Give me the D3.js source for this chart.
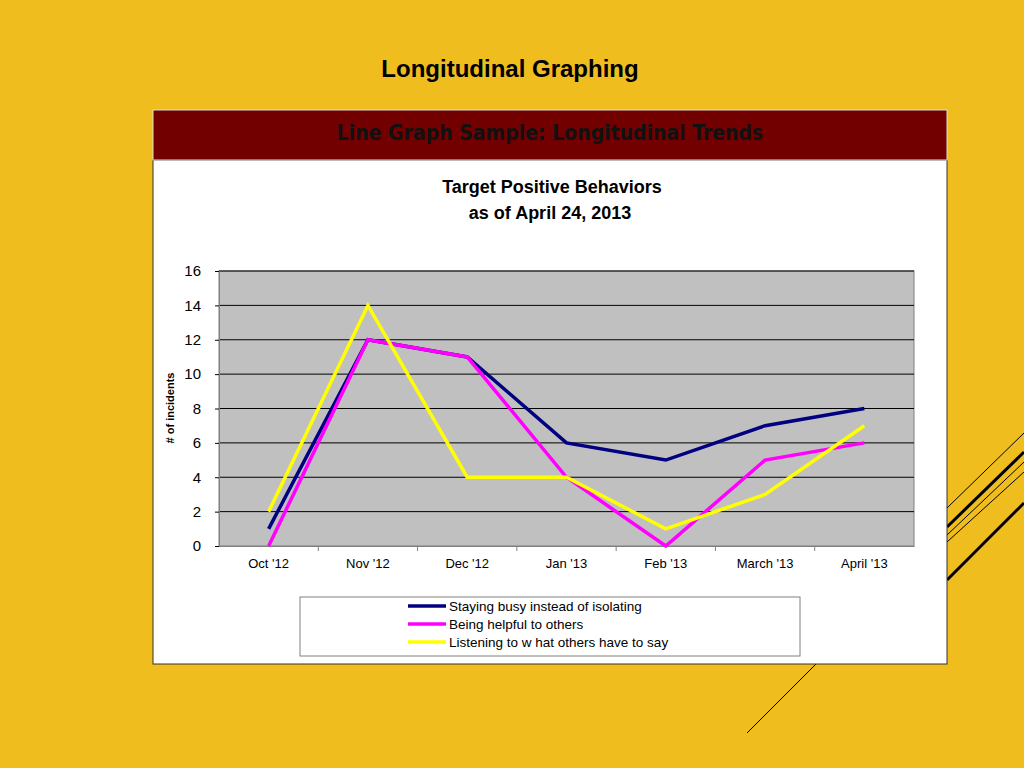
<!DOCTYPE html>
<html>
<head>
<meta charset="utf-8">
<script src="https://cdn.jsdelivr.net/npm/d3@7"></script>
<style>
  body { margin: 0; background: #F0BD1F; }
  svg { display: block; font-family: "Liberation Sans", Arial, sans-serif; }
</style>
</head>
<body>
<svg id="chart" width="1024" height="768"></svg>
<script>
const months = ["Oct '12", "Nov '12", "Dec '12", "Jan '13", "Feb '13", "March '13", "April '13"];
const stayingBusy = [1, 12, 11, 6, 5, 7, 8];
const beingHelpful = [0, 12, 11, 4, 0, 5, 6];
const listening = [2, 14, 4, 4, 1, 3, 7];
const yTicks = [0, 2, 4, 6, 8, 10, 12, 14, 16];

const series = [
  { name: 'Staying busy instead of isolating', values: stayingBusy, color: '#000080' },
  { name: 'Being helpful to others', values: beingHelpful, color: '#FF00FF' },
  { name: 'Listening to w hat others have to say', values: listening, color: '#FFFF00' },
];

const svg = d3.select('#chart');

// decorative diagonal lines
const deco = [
  [947, 508, 1024, 433, 1], [947, 527, 1024, 452, 3], [947, 535, 1024, 462, 1],
  [947, 542, 1024, 472, 1], [947, 580, 1024, 503, 3], [747, 733, 816, 664, 1],
];
deco.forEach(([x1, y1, x2, y2, w]) =>
  svg.append('line').attr('x1', x1).attr('y1', y1).attr('x2', x2).attr('y2', y2)
    .attr('stroke', '#000').attr('stroke-width', w));

svg.append('text').attr('x', 510).attr('y', 77).attr('text-anchor', 'middle')
  .attr('font-size', 24).attr('font-weight', 'bold').text('Longitudinal Graphing');

svg.append('rect').attr('x', 153).attr('y', 160).attr('width', 794).attr('height', 504)
  .attr('fill', '#fff').attr('stroke', '#333');
svg.append('rect').attr('x', 153).attr('y', 110).attr('width', 794).attr('height', 50)
  .attr('fill', '#720000').attr('stroke', '#ddd');
svg.append('text').attr('x', 550).attr('y', 140).attr('text-anchor', 'middle')
  .attr('font-size', 21).attr('font-weight', 'bold').attr('fill', '#111')
  .attr('font-family', 'DejaVu Sans Condensed, sans-serif').text('Line Graph Sample: Longitudinal Trends');

svg.append('text').attr('x', 552).attr('y', 193).attr('text-anchor', 'middle')
  .attr('font-size', 18).attr('font-weight', 'bold').text('Target Positive Behaviors');
svg.append('text').attr('x', 550).attr('y', 219).attr('text-anchor', 'middle')
  .attr('font-size', 18).attr('font-weight', 'bold').text('as of April 24, 2013');

const plot = { left: 219, right: 914, top: 271, bottom: 546 };
const x = d3.scaleBand().domain(months).range([plot.left, plot.right]);
const y = d3.scaleLinear().domain([0, 16]).range([plot.bottom, plot.top]);

svg.append('rect').attr('x', plot.left).attr('y', plot.top)
  .attr('width', plot.right - plot.left).attr('height', plot.bottom - plot.top)
  .attr('fill', '#C0C0C0').attr('stroke', '#808080');

svg.append('g').selectAll('line').data(yTicks.slice(1)).join('line')
  .attr('x1', plot.left).attr('x2', plot.right)
  .attr('y1', d => y(d)).attr('y2', d => y(d)).attr('stroke', '#000');

const yAxis = svg.append('g').attr('transform', `translate(${plot.left},0)`)
  .call(d3.axisLeft(y).tickValues(yTicks).tickSize(4).tickPadding(14));
yAxis.selectAll('text').attr('font-size', 15).attr('fill', '#000');
yAxis.select('.domain').attr('stroke', '#808080');

const xAxis = svg.append('g').attr('transform', `translate(0,${plot.bottom})`)
  .call(d3.axisBottom(x).tickSize(0).tickPadding(13));
xAxis.selectAll('text').attr('font-size', 13).attr('fill', '#000');
xAxis.select('.domain').attr('stroke', '#808080');
svg.append('g').selectAll('line').data(months.slice(1)).join('line')
  .attr('x1', d => x(d)).attr('x2', d => x(d))
  .attr('y1', plot.bottom).attr('y2', plot.bottom + 5).attr('stroke', '#808080');

svg.append('text').attr('transform', 'translate(174,408) rotate(-90)')
  .attr('text-anchor', 'middle').attr('font-size', 11).attr('font-weight', 'bold')
  .text('# of incidents');

const line = d3.line().x((d, i) => x(months[i]) + x.bandwidth() / 2).y(d => y(d));
series.forEach(s => svg.append('path').attr('d', line(s.values))
  .attr('fill', 'none').attr('stroke', s.color).attr('stroke-width', 3.5));

const legend = svg.append('g');
legend.append('rect').attr('x', 300).attr('y', 597).attr('width', 500).attr('height', 59)
  .attr('fill', '#fff').attr('stroke', '#808080');
series.forEach((s, i) => {
  const ly = 606 + i * 18;
  legend.append('line').attr('x1', 408).attr('x2', 446).attr('y1', ly).attr('y2', ly)
    .attr('stroke', s.color).attr('stroke-width', 3.5);
  legend.append('text').attr('x', 449).attr('y', ly + 5).attr('font-size', 13.5).text(s.name);
});
</script>
</body>
</html>
